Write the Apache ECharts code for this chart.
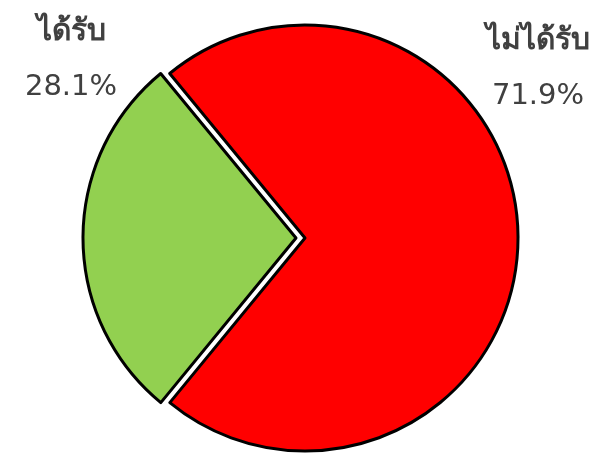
<!DOCTYPE html>
<html>
<head>
<meta charset="utf-8">
<script src="https://cdn.jsdelivr.net/npm/echarts@6/dist/echarts.min.js"></script>
<style>
  html, body { margin: 0; padding: 0; background: #fff; }
  #chart { width: 610px; height: 455px; }
</style>
</head>
<body>
<div id="chart"></div>
<script>
// ข้อมูลของกราฟ
var categories = ['ได้รับ', 'ไม่ได้รับ'];
var values = [28.1, 71.9];
var colors = ['#92D050', '#FF0000'];
// ตำแหน่งป้ายกำกับ (x, y กลางของป้าย)
var labelPos = [[71, 60], [538, 69]];
// ชิ้นที่แยกออก (ได้รับ) ขยับไปทางซ้าย
var centers = [[296, 238], [305, 238]];

var chart = echarts.init(document.getElementById('chart'));

// ทำสองซีรีส์ซ้อนกัน แต่ละซีรีส์แสดงเพียงชิ้นเดียว เพื่อให้ชิ้นสีเขียวแยกออกมา
var series = centers.map(function (c, k) {
  return {
    type: 'pie',
    center: c,
    radius: 213,
    startAngle: 230.6,
    clockwise: true,
    percentPrecision: 1,
    silent: true,
    emphasis: { disabled: true },
    labelLine: { show: false },
    labelLayout: function (params) {
      var p = labelPos[params.dataIndex];
      return { x: p[0], y: p[1], align: 'center', verticalAlign: 'middle' };
    },
    data: categories.map(function (name, i) {
      var visible = i === k;
      return {
        name: name,
        value: values[i],
        itemStyle: visible
          ? { color: colors[i], borderColor: '#000', borderWidth: 3 }
          : { color: 'rgba(0,0,0,0)', borderWidth: 0 },
        label: {
          show: visible,
          position: 'inside',
          overflow: 'none',
          formatter: '{n|{b}}\n{p|{d}%}',
          align: 'center',
          rich: {
            n: {
              fontSize: 30,
              fontWeight: 'bold',
              lineHeight: 55,
              color: '#404040',
              fontFamily: 'DejaVu Sans, sans-serif'
            },
            p: {
              fontSize: 29,
              lineHeight: 55,
              color: '#404040',
              fontFamily: 'DejaVu Sans, sans-serif'
            }
          }
        }
      };
    })
  };
});

chart.setOption({ animation: false, series: series });
</script>
</body>
</html>
